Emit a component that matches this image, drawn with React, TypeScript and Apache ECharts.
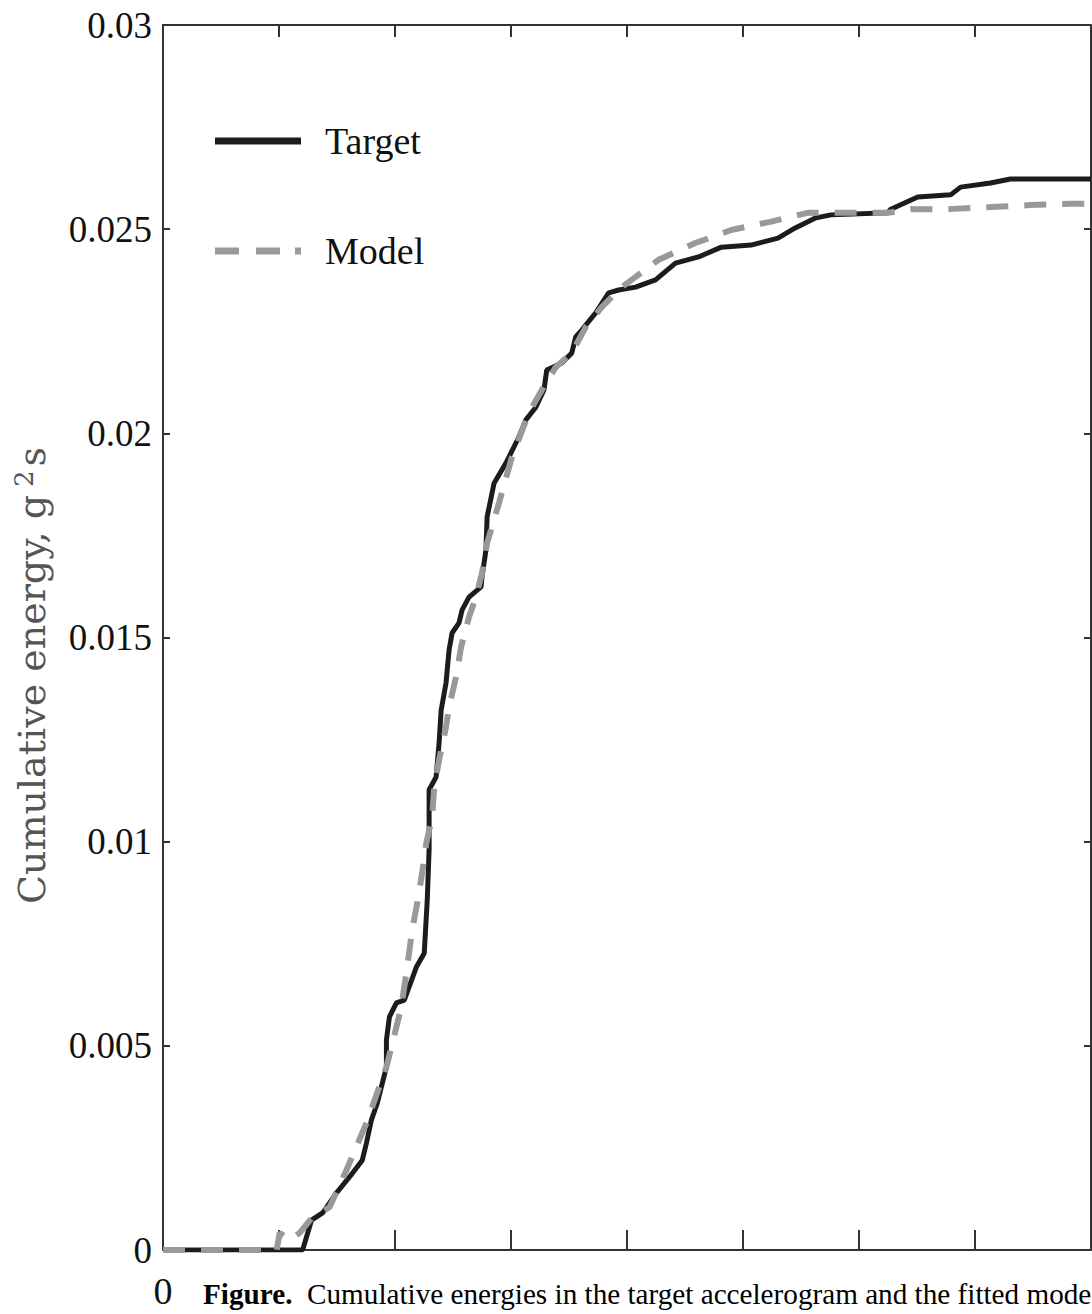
import React, { useEffect, useRef } from "react";
import * as echarts from "echarts";

// time (s) and cumulative energy (g^2 s)
const targetT = [0, 6.02, 6.4, 6.88, 7.48, 8.04, 8.59, 8.77, 8.98, 9.24, 9.41, 9.63, 9.63, 9.76, 10.06, 10.4, 10.92, 11.26, 11.39, 11.47, 11.47, 11.77, 11.9, 11.99, 12.2, 12.33, 12.46, 12.76, 12.89, 13.19, 13.71, 13.75, 13.92, 13.97, 14.27, 14.78, 15.34, 15.64, 16.07, 16.42, 16.54, 17.19, 17.62, 17.79, 18.05, 18.65, 19.21, 19.64, 20.37, 21.23, 22.09, 23.08, 24.07, 25.35, 26.51, 27.25, 28.1, 28.79, 31.24, 31.37, 32.53, 33.95, 34.38, 35.67, 36.53, 40];
const targetE = [0, 0, 0.00073, 0.00091, 0.0014, 0.00179, 0.0022, 0.00262, 0.00318, 0.0036, 0.00399, 0.00448, 0.00514, 0.00571, 0.00605, 0.00612, 0.00693, 0.00727, 0.00857, 0.0098, 0.01127, 0.01158, 0.01242, 0.01322, 0.01389, 0.01469, 0.01511, 0.01536, 0.01567, 0.01599, 0.01624, 0.01648, 0.01714, 0.01795, 0.01878, 0.01927, 0.01991, 0.02033, 0.02064, 0.02106, 0.02155, 0.02172, 0.02197, 0.02236, 0.02253, 0.02295, 0.02344, 0.02351, 0.02358, 0.02376, 0.02417, 0.02432, 0.02456, 0.02461, 0.02478, 0.02503, 0.02527, 0.02535, 0.0254, 0.02549, 0.02579, 0.02584, 0.02603, 0.02613, 0.02623, 0.02623];

const modelT = [0, 4.9, 5.03, 5.46, 5.89, 6.45, 7.18, 7.91, 8.77, 9.63, 10.06, 10.27, 10.49, 10.74, 10.96, 11.17, 11.35, 11.6, 11.69, 11.9, 12.2, 12.33, 12.63, 12.85, 13.19, 13.49, 13.75, 13.92, 13.97, 14.48, 15.04, 15.77, 16.33, 16.93, 17.62, 18.22, 18.91, 19.77, 20.37, 21.36, 22.95, 24.49, 26.17, 27.8, 31.24, 32.23, 33.82, 35.67, 37.39, 39.11, 40];
const modelE = [0, 0, 0.00042, 0.00024, 0.00042, 0.00081, 0.00105, 0.00196, 0.00311, 0.00448, 0.00546, 0.00595, 0.00678, 0.00784, 0.0085, 0.00923, 0.00997, 0.0106, 0.01134, 0.012, 0.01281, 0.0133, 0.01403, 0.01477, 0.0155, 0.01599, 0.01658, 0.01714, 0.01731, 0.01829, 0.01942, 0.0205, 0.02106, 0.02162, 0.02197, 0.0226, 0.02309, 0.02358, 0.02383, 0.02425, 0.02466, 0.02498, 0.02518, 0.0254, 0.0254, 0.02549, 0.02549, 0.02554, 0.02559, 0.02562, 0.02562];

const seriesNames = ["Target", "Model"];
const yTickLabels: Record<string, string> = {
  "0": "0",
  "0.005": "0.005",
  "0.01": "0.01",
  "0.015": "0.015",
  "0.02": "0.02",
  "0.025": "0.025",
  "0.03": "0.03",
};
const yTitle = "Cumulative energy, g";
const captionBold = "Figure.";
const captionText = "  Cumulative energies in the target accelerogram and the fitted mode";

const serif = "'Liberation Serif', 'Times New Roman', serif";

export default function App() {
  const ref = useRef<HTMLDivElement>(null);
  useEffect(() => {
    if (!ref.current) return;
    const chart = echarts.init(ref.current, undefined, { renderer: "svg" });
    const axisLine = { show: true, onZero: false, lineStyle: { color: "#333", width: 2 } };
    chart.setOption({
      animation: false,
      backgroundColor: "#fff",
      grid: {
        left: 163,
        right: 1,
        top: 25,
        bottom: 64,
        containLabel: false,
        outerBoundsMode: "none",
      },
      legend: {
        orient: "vertical",
        left: 210,
        top: 117,
        itemWidth: 86,
        itemHeight: 7,
        itemGap: 72,
        data: [
          { name: seriesNames[0], icon: "path://M0 0H86V7H0Z" },
          { name: seriesNames[1], icon: "path://M0 0H24V7H0Z M41 0H65V7H41Z M80 0H86V7H80Z" },
        ],
        textStyle: {
          fontFamily: serif,
          fontSize: 38,
          color: "#111",
          padding: [0, 0, 0, 19],
        },
      },
      xAxis: [
        {
          type: "value",
          min: 0,
          max: 40,
          interval: 5,
          position: "bottom",
          axisLine,
          splitLine: { show: false },
          axisTick: { show: true, inside: true, length: 20, lineStyle: { color: "#333", width: 2 } },
          axisLabel: {
            margin: 22,
            fontFamily: serif,
            fontSize: 38,
            color: "#111",
            formatter: (v: number) => (v === 0 ? "0" : ""),
          },
        },
        {
          type: "value",
          min: 0,
          max: 40,
          interval: 5,
          position: "top",
          axisLine,
          splitLine: { show: false },
          axisTick: { show: true, inside: true, length: 12, lineStyle: { color: "#333", width: 2 } },
          axisLabel: { show: false },
        },
      ],
      yAxis: [
        {
          type: "value",
          min: 0,
          max: 0.03,
          interval: 0.005,
          position: "left",
          axisLine,
          splitLine: { show: false },
          axisTick: { show: true, inside: true, length: 7, lineStyle: { color: "#333", width: 2 } },
          axisLabel: {
            margin: 11,
            fontFamily: serif,
            fontSize: 37,
            color: "#111",
            formatter: (v: number) => yTickLabels[String(+v.toFixed(3))] ?? "",
          },
          name: "{a|" + yTitle + "}{sup|2}{a|s}",
          nameLocation: "middle",
          nameGap: 110,
          nameRotate: 90,
          nameTextStyle: {
            padding: [0, 76, 0, 0],
            rich: {
              a: { fontFamily: "'DejaVu Serif', serif", fontSize: 38, color: "#555" },
              sup: {
                fontFamily: "'DejaVu Serif', serif",
                fontSize: 26,
                color: "#555",
                verticalAlign: "top",
                padding: [0, 4, 16, 8],
              },
            },
          },
        },
        {
          type: "value",
          min: 0,
          max: 0.03,
          interval: 0.005,
          position: "right",
          axisLine,
          splitLine: { show: false },
          axisTick: { show: true, inside: true, length: 7, lineStyle: { color: "#333", width: 2 } },
          axisLabel: { show: false },
        },
      ],
      series: [
        {
          name: seriesNames[0],
          type: "line",
          xAxisIndex: 0,
          yAxisIndex: 0,
          symbol: "none",
          showSymbol: false,
          data: targetT.map((t, i) => [t, targetE[i]]),
          lineStyle: { color: "#1c1c1c", width: 5 },
          itemStyle: { color: "#1c1c1c" },
          z: 2,
        },
        {
          name: seriesNames[1],
          type: "line",
          xAxisIndex: 0,
          yAxisIndex: 0,
          symbol: "none",
          showSymbol: false,
          data: modelT.map((t, i) => [t, modelE[i]]),
          lineStyle: { color: "#999", width: 6, type: [22, 16] },
          itemStyle: { color: "#999" },
          z: 3,
        },
      ],
      graphic: [
        {
          type: "text",
          left: 203,
          top: 1279,
          style: {
            text: "{b|" + captionBold + "}{r|" + captionText + "}",
            rich: {
              b: { fontFamily: serif, fontSize: 29.2, fontWeight: "bold", fill: "#000" },
              r: { fontFamily: serif, fontSize: 29.2, fill: "#000" },
            },
          },
        },
      ],
    });
    return () => chart.dispose();
  }, []);
  return (
    <div
      ref={ref}
      style={{ position: "absolute", left: 0, top: 0, width: 1092, height: 1314 }}
    />
  );
}
